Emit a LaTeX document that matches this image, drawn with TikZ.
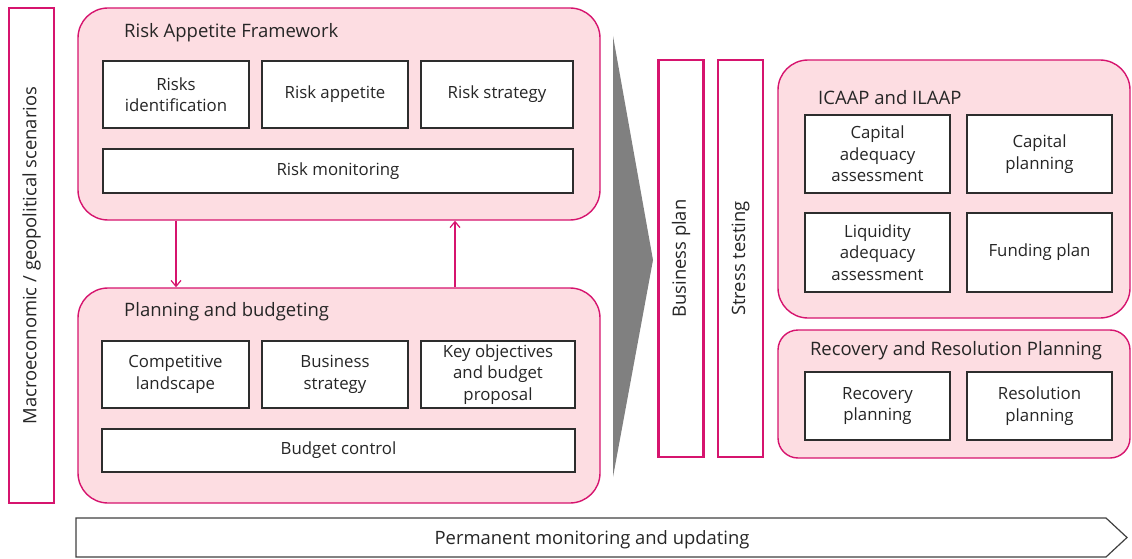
\documentclass[tikz,border=0pt]{standalone}
\usepackage{fontspec}
\setmainfont{Open Sans}
\usetikzlibrary{arrows.meta}
\definecolor{pinkline}{RGB}{214,20,110}
\definecolor{pinkfill}{RGB}{253,221,226}
\definecolor{boxline}{RGB}{45,45,45}
\definecolor{chev}{RGB}{128,128,128}
\tikzset{
  group/.style={draw=pinkline, fill=pinkfill, line width=1.4pt, rounded corners=30pt, inner sep=0pt},
  pinkbar/.style={draw=pinkline, fill=white, line width=2.2pt, inner sep=0pt},
  inbox/.style={draw=boxline, fill=white, line width=1.4pt, align=center, inner sep=0pt,
    font=\fontsize{16.8}{21.5}\selectfont, text=black!85},
  gtitle/.style={anchor=west, inner sep=0pt, font=\fontsize{18.5}{22}\selectfont, text=black!85},
  bartext/.style={rotate=90, inner sep=0pt, font=\fontsize{18.4}{22}\selectfont, text=black!85},
  conn/.style={draw=pinkline, line width=1.2pt, -{Straight Barb[length=6pt,width=10pt]}},
}
\begin{document}
\begin{tikzpicture}[x=1pt,y=-1pt]
\useasboundingbox (0,0) rectangle (1132,559);
% left bar
\node[pinkbar, minimum width=45pt, minimum height=495pt] (macro) at (31.5,255.5) {};
\node[bartext] (macrot) at (macro.center) {Macroeconomic / geopolitical scenarios};
% Risk appetite framework
\node[group, minimum width=522pt, minimum height=212pt] (raf) at (339,114) {};
\node[gtitle] (raft) at (124,33) {Risk Appetite Framework};
\node[inbox, minimum width=146pt, minimum height=67pt] (ri) at (176,94.5) {Risks\\identification};
\node[inbox, minimum width=146pt, minimum height=67pt] (ra) at (335,94.5) {Risk appetite};
\node[inbox, minimum width=152pt, minimum height=67pt] (rs) at (497,94.5) {Risk strategy};
\node[inbox, minimum width=470pt, minimum height=44pt] (rm) at (338,171) {Risk monitoring};
% Planning and budgeting
\node[group, minimum width=522pt, minimum height=215pt] (pb) at (339,395.5) {};
\node[gtitle] (pbt) at (124,312) {Planning and budgeting};
\node[inbox, minimum width=147pt, minimum height=67pt] (cl) at (175.5,374.5) {Competitive\\landscape};
\node[inbox, minimum width=146pt, minimum height=67pt] (bs) at (335,374.5) {Business\\strategy};
\node[inbox, minimum width=154pt, minimum height=67pt] (ko) at (498,374.5) {Key objectives\\and budget\\proposal};
\node[inbox, minimum width=473pt, minimum height=43pt] (bc) at (338.5,450.5) {Budget control};
% connectors
\coordinate (upx) at (455,0);
\draw[conn] (ri.center |- raf.south) -- (ri.center |- pb.north);
\draw[conn] (upx |- pb.north) -- (upx |- raf.south);
% chevron
\coordinate (cha) at (613,36);
\coordinate (chb) at (653,260);
\coordinate (chc) at (613,477);
\fill[chev] (cha) -- (chb) -- (chc) -- cycle;
% business plan / stress testing
\node[pinkbar, minimum width=45pt, minimum height=397pt] (bp) at (681,258.5) {};
\node[bartext] (bpt) at (bp.center) {Business plan};
\node[pinkbar, minimum width=45pt, minimum height=397pt] (st) at (740.5,258.5) {};
\node[bartext] (stt) at (st.center) {Stress testing};
% ICAAP
\node[group, minimum width=352pt, minimum height=258pt] (ic) at (954,189) {};
\node[gtitle] (ict) at (818,98) {ICAAP and ILAAP};
\node[inbox, minimum width=145pt, minimum height=78pt] (ca) at (877.5,154) {Capital\\adequacy\\assessment};
\node[inbox, minimum width=145pt, minimum height=78pt] (cp) at (1039.5,154) {Capital\\planning};
\node[inbox, minimum width=145pt, minimum height=79pt] (la) at (877.5,252.5) {Liquidity\\adequacy\\assessment};
\node[inbox, minimum width=145pt, minimum height=79pt] (fp) at (1039.5,252.5) {Funding plan};
% Recovery
\node[group, rounded corners=20pt, minimum width=352pt, minimum height=128pt] (rr) at (954,394) {};
\node[gtitle, anchor=center] (rrt) at (956,351) {Recovery and Resolution Planning};
\node[inbox, minimum width=145pt, minimum height=68pt] (rp) at (877.5,406) {Recovery\\planning};
\node[inbox, minimum width=145pt, minimum height=68pt] (rsp) at (1039.5,406) {Resolution\\planning};
% bottom arrow
\coordinate (pa) at (76,518);
\coordinate (pb1) at (1106,518);
\coordinate (pc) at (1127,537.5);
\coordinate (pd) at (1106,557);
\coordinate (pe) at (76,557);
\draw[draw=black!75, fill=white, line width=1.2pt] (pa) -- (pb1) -- (pc) -- (pd) -- (pe) -- cycle;
\node[inner sep=0pt, font=\fontsize{18.4}{22}\selectfont, text=black!85] (pmt) at (592,540) {Permanent monitoring and updating};
\end{tikzpicture}
\end{document}
